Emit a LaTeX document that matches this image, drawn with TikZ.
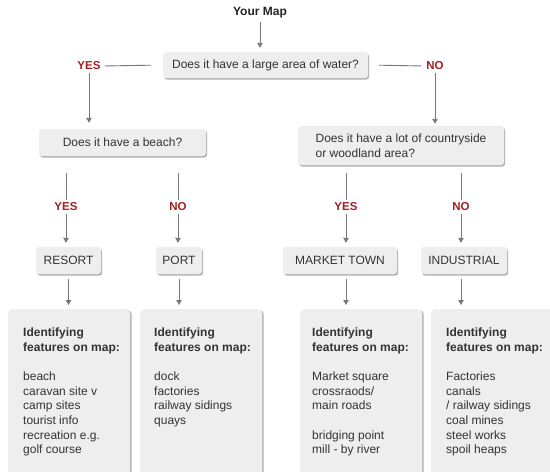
\documentclass[tikz,border=0pt]{standalone}
\usepackage{fontspec}
\setmainfont{Liberation Sans}
\usetikzlibrary{arrows.meta,shadows}
\definecolor{boxfill}{HTML}{EEEEEE}
\definecolor{linecol}{HTML}{777777}
\definecolor{txt}{HTML}{333333}
\definecolor{yesno}{RGB}{163,29,36}
\begin{document}
\begin{tikzpicture}[x=1pt,y=-1pt,
  every node/.style={font=\fontsize{12}{14.6}\selectfont, text=txt},
  qbox/.style={fill=boxfill, rounded corners=3pt, inner sep=0pt,
    drop shadow={shadow xshift=1.2pt,shadow yshift=-1.6pt,fill=black,opacity=0.3}},
  fbox/.style={fill=boxfill, rounded corners=4pt, inner sep=0pt, anchor=north west,
    minimum width=122pt, minimum height=175pt,
    drop shadow={shadow xshift=1.5pt,shadow yshift=-1pt,fill=black,opacity=0.3}},
  ftext/.style={anchor=north west, inner sep=0pt, align=left},
  ans/.style={font=\fontsize{11.5}{13}\selectfont\bfseries, text=yesno, inner sep=2pt},
  conn/.style={draw=linecol, line width=0.9pt},
  arr/.style={conn, -{Triangle[length=5pt,width=5.5pt]}}
]
\useasboundingbox (0,0) rectangle (550,472);
\clip (0,0) rectangle (550,472);

% top
\node[font=\fontsize{12}{14}\selectfont\bfseries, text=black!85, inner sep=2pt] (ymap) at (260,13) {Your Map};
\node[qbox, minimum width=205pt, minimum height=26pt] (q1) at (265.5,65) {Does it have a large area of water?};
\node[ans] (yes1) at (89,66) {YES};
\node[ans] (no1) at (435,66) {NO};

% second level questions
\node[qbox, minimum width=167pt, minimum height=27pt] (q2) at (122.5,142.5) {Does it have a beach?};
\node[qbox, minimum width=206pt, minimum height=39pt, align=left] (q3) at (401,145.5)
  {Does it have a lot of countryside\\or woodland area?};

% answers
\node[ans] (yes2) at (66,207) {YES};
\node[ans] (no2) at (178,207) {NO};
\node[ans] (yes3) at (346,207) {YES};
\node[ans] (no3) at (461,207) {NO};

% outcomes
\node[qbox, minimum width=65pt, minimum height=27pt] (resort) at (68.5,260.5) {RESORT};
\node[qbox, minimum width=46pt, minimum height=27pt] (port) at (179,260.5) {PORT};
\node[qbox, minimum width=114pt, minimum height=27pt] (market) at (340,260.5) {MARKET TOWN};
\node[qbox, minimum width=86pt, minimum height=27pt] (indus) at (464,260.5) {INDUSTRIAL};

% feature boxes
\node[fbox] (f1) at (8,309) {};
\node[fbox] (f2) at (140,309) {};
\node[fbox] (f3) at (300,309) {};
\node[fbox] (f4) at (431,309) {};

\node[ftext] (f1t) at ([xshift=15pt,yshift=-19pt]f1.north west)
  {\textbf{Identifying}\\\textbf{features on map:}\\[14.6pt]beach\\caravan site v\\camp sites\\tourist info\\recreation e.g.\\golf course};
\node[ftext] (f2t) at ([xshift=14pt,yshift=-19pt]f2.north west)
  {\textbf{Identifying}\\\textbf{features on map:}\\[14.6pt]dock\\factories\\railway sidings\\quays};
\node[ftext] (f3t) at ([xshift=12pt,yshift=-19pt]f3.north west)
  {\textbf{Identifying}\\\textbf{features on map:}\\[14.6pt]Market square\\crossraods/\\main roads\\[14.6pt]bridging point\\mill - by river};
\node[ftext] (f4t) at ([xshift=15pt,yshift=-19pt]f4.north west)
  {\textbf{Identifying}\\\textbf{features on map:}\\[14.6pt]Factories\\canals\\/ railway sidings\\coal mines\\steel works\\spoil heaps};

% connectors
\draw[arr, shorten <=1pt, shorten >=4pt] (ymap.south) -- (ymap |- q1.north);
\draw[conn, shorten <=12pt, shorten >=2pt] (q1.west) -- (yes1.east);
\draw[conn, shorten <=11pt, shorten >=3pt] (q1.east) -- (no1.west);
\draw[arr, shorten <=1pt, shorten >=6pt] (yes1.south) -- (yes1 |- q2.north);
\draw[arr, shorten <=1pt, shorten >=2pt] (no1.south) -- (no1 |- q3.north);

\draw[conn, shorten <=17pt, shorten >=1pt] (q2.south -| yes2) -- (yes2.north);
\draw[conn, shorten <=17pt, shorten >=1pt] (q2.south -| no2) -- (no2.north);
\draw[conn, shorten <=8pt, shorten >=1pt] (q3.south -| yes3) -- (yes3.north);
\draw[conn, shorten <=8pt, shorten >=1pt] (q3.south -| no3) -- (no3.north);

\draw[arr, shorten <=1pt, shorten >=4pt] (yes2.south) -- (yes2 |- resort.north);
\draw[arr, shorten <=1pt, shorten >=4pt] (no2.south) -- (no2 |- port.north);
\draw[arr, shorten <=1pt, shorten >=4pt] (yes3.south) -- (yes3 |- market.north);
\draw[arr, shorten <=1pt, shorten >=4pt] (no3.south) -- (no3 |- indus.north);

\draw[arr, shorten <=5pt, shorten >=4pt] (resort.south) -- (resort.south |- f1.north);
\draw[arr, shorten <=5pt, shorten >=4pt] (port.south) -- (port.south |- f2.north);
\draw[arr, shorten <=5pt, shorten >=4pt] (market.south -| yes3) -- (yes3 |- f3.north);
\draw[arr, shorten <=5pt, shorten >=4pt] (indus.south -| no3) -- (no3 |- f4.north);
\end{tikzpicture}
\end{document}
